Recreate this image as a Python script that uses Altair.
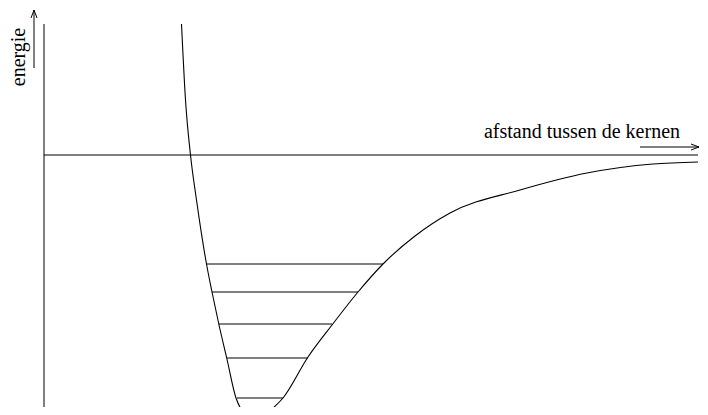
import altair as alt
import pandas as pd

# Potential energy curve (distance r, energy E), arbitrary units
curve_r = [1.375, 1.415, 1.465, 1.525, 1.625, 1.68, 1.75, 1.825, 1.92, 1.97, 2.04, 2.11,
           2.18, 2.28, 2.39, 2.64, 2.88, 3.14, 3.39, 3.71, 4.06, 4.76, 5.43, 6.09, 6.54]
curve_E = [1.31, 0.55, 0.0, -0.45, -1.09, -1.37, -1.70, -2.02, -2.43, -2.54, -2.61, -2.64,
           -2.62, -2.54, -2.43, -2.02, -1.70, -1.37, -1.09, -0.81, -0.58, -0.35, -0.18, -0.09, -0.07]

# Vibrational energy levels
level_E = [-1.09, -1.37, -1.69, -2.03, -2.43]
level_r1 = [1.62, 1.68, 1.75, 1.83, 1.93]
level_r2 = [3.39, 3.14, 2.88, 2.64, 2.39]

# Axis lines
axis_r1 = [0.0, 0.0]
axis_r2 = [0.0, 6.54]
axis_E1 = [1.31, 0.0]
axis_E2 = [-2.7, 0.0]

# Arrows (shafts and heads)
arrow_r1 = [-0.10, 5.96]
arrow_r2 = [-0.10, 6.55]
arrow_E1 = [0.87, 0.08]
arrow_E2 = [1.45, 0.08]

labels = ["energie", "afstand tussen de kernen"]
label_r = [-0.19, 5.38]
label_E = [0.98, 0.17]

xs = alt.Scale(domain=[-0.36, 6.56], nice=False, zero=False)
ys = alt.Scale(domain=[-2.52, 1.47], nice=False, zero=False)
black = "#000000"

curve_df = pd.DataFrame({"r": curve_r, "E": curve_E, "i": list(range(len(curve_r)))})
levels_df = pd.DataFrame({"r1": level_r1, "r2": level_r2, "E": level_E})
axes_v = pd.DataFrame({"r": [axis_r1[0]], "E1": [axis_E1[0]], "E2": [axis_E2[0]]})
axes_h = pd.DataFrame({"r1": [axis_r1[1]], "r2": [axis_r2[1]], "E": [axis_E1[1]]})
arrow_v = pd.DataFrame({"r": [arrow_r1[0]], "E1": [arrow_E1[0]], "E2": [arrow_E2[0]]})
arrow_h = pd.DataFrame({"r1": [arrow_r1[1]], "r2": [arrow_r2[1]], "E": [arrow_E1[1]]})
head_up = pd.DataFrame({"r": [arrow_r2[0]], "E": [arrow_E2[0]]})
head_right = pd.DataFrame({"r": [arrow_r2[1]], "E": [arrow_E2[1]]})

curve = alt.Chart(curve_df).mark_line(color=black, strokeWidth=1.1, interpolate="monotone").encode(
    x=alt.X("r:Q", scale=xs, axis=None),
    y=alt.Y("E:Q", scale=ys, axis=None),
    order="i:O",
)

levels = alt.Chart(levels_df).mark_rule(color=black, strokeWidth=1).encode(
    x=alt.X("r1:Q", scale=xs, axis=None), x2="r2:Q",
    y=alt.Y("E:Q", scale=ys, axis=None),
)

vaxis = alt.Chart(axes_v).mark_rule(color=black, strokeWidth=1).encode(
    x=alt.X("r:Q", scale=xs, axis=None),
    y=alt.Y("E1:Q", scale=ys, axis=None), y2="E2:Q",
)
haxis = alt.Chart(axes_h).mark_rule(color=black, strokeWidth=1).encode(
    x=alt.X("r1:Q", scale=xs, axis=None), x2="r2:Q",
    y=alt.Y("E:Q", scale=ys, axis=None),
)
varrow = alt.Chart(arrow_v).mark_rule(color=black, strokeWidth=1).encode(
    x=alt.X("r:Q", scale=xs, axis=None),
    y=alt.Y("E1:Q", scale=ys, axis=None), y2="E2:Q",
)
harrow = alt.Chart(arrow_h).mark_rule(color=black, strokeWidth=1).encode(
    x=alt.X("r1:Q", scale=xs, axis=None), x2="r2:Q",
    y=alt.Y("E:Q", scale=ys, axis=None),
)
hup = alt.Chart(head_up).mark_point(
    shape="M-0.375,1L0,0L0.375,1", size=256, filled=False, color=black, strokeWidth=1, opacity=1
).encode(x=alt.X("r:Q", scale=xs, axis=None), y=alt.Y("E:Q", scale=ys, axis=None))
hright = alt.Chart(head_right).mark_point(
    shape="M-1,-0.375L0,0L-1,0.375", size=256, filled=False, color=black, strokeWidth=1, opacity=1
).encode(x=alt.X("r:Q", scale=xs, axis=None), y=alt.Y("E:Q", scale=ys, axis=None))

t1 = alt.Chart(pd.DataFrame({"t": [labels[0]], "r": [label_r[0]], "E": [label_E[0]]})).mark_text(
    font="Liberation Serif", fontSize=20, angle=270, align="center", baseline="alphabetic", color=black
).encode(x=alt.X("r:Q", scale=xs, axis=None), y=alt.Y("E:Q", scale=ys, axis=None), text="t:N")
t2 = alt.Chart(pd.DataFrame({"t": [labels[1]], "r": [label_r[1]], "E": [label_E[1]]})).mark_text(
    font="Liberation Serif", fontSize=20, align="center", baseline="alphabetic", color=black
).encode(x=alt.X("r:Q", scale=xs, axis=None), y=alt.Y("E:Q", scale=ys, axis=None), text="t:N")

chart = alt.layer(vaxis, haxis, varrow, harrow, hup, hright, levels, curve, t1, t2).properties(
    width=692, height=399, padding=0, autosize=alt.AutoSizeParams(type="none"),
    background="white",
).configure_view(stroke=None)

chart.save("out.html", embed_options={"renderer": "svg", "actions": False})
